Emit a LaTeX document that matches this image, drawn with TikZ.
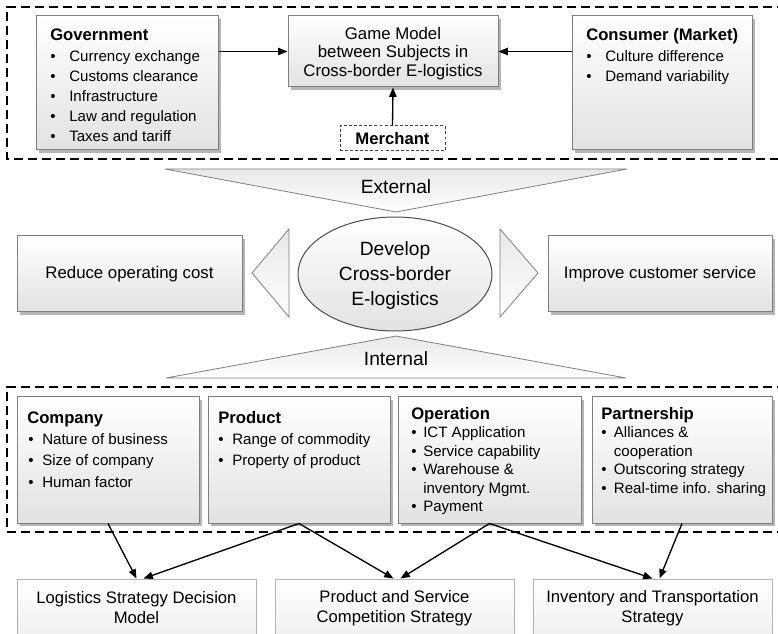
\documentclass[tikz,border=0pt]{standalone}
\usepackage{fontspec}
\setmainfont{Liberation Sans}
\usetikzlibrary{shapes.geometric,fit,shadows,arrows.meta,calc}
\definecolor{bord}{HTML}{7F7F7F}
\definecolor{fillb}{HTML}{E2E2E2}
\definecolor{shad}{HTML}{A8A8A8}
\newcommand\bul[2]{\makebox[#1][l]{\textbullet}#2}
\begin{document}
\begin{tikzpicture}[x=0.75pt,y=-0.75pt,
 box/.style={draw=bord, line width=0.75pt, top color=white, bottom color=fillb, inner sep=0pt,
   drop shadow={shadow xshift=2.2pt, shadow yshift=-2.2pt, fill=shad, opacity=0.85}},
 plainbox/.style={draw=bord!60, line width=0.75pt, top color=white, bottom color=fillb!50, inner sep=0pt},
 frame/.style={draw=black, line width=0.9pt, dash pattern=on 7pt off 3.5pt},
 arr/.style={draw=black, line width=1pt, -{Triangle[length=7pt,width=5.5pt]}},
 tri/.style={draw=bord, line width=0.6pt, top color=fillb!80, bottom color=white},
 title/.style={font=\fontsize{12.5}{15}\selectfont\bfseries, anchor=base west, inner sep=0pt},
 item/.style={font=\fontsize{11.3}{14}\selectfont, anchor=base west, inner sep=0pt},
 big/.style={font=\fontsize{14.4}{18.75}\selectfont, inner sep=0pt, align=center},
 mid/.style={font=\fontsize{12.6}{15}\selectfont, align=center, inner sep=0pt},
 low/.style={font=\fontsize{12.5}{15}\selectfont, align=center, inner sep=0pt},
]
\useasboundingbox (0,0) rectangle (778,634);

% ---------- external frame (open on the right, beyond the page) ----------
\coordinate (xf1) at (800,7); \coordinate (xf2) at (7,7);
\coordinate (xf3) at (7,159); \coordinate (xf4) at (800,159);
\draw[frame] (xf1) -- (xf2) -- (xf3) -- (xf4);

\node[box, fit={(36,16)(218,150)}] (gov) {};
\node[box, fit={(288,16)(498,87)}] (game) {};
\node[font=\fontsize{12.6}{13.9}\selectfont, align=center, inner sep=0pt] (gamet) at (393,53.5)
  {Game Model\\between Subjects in\\Cross-border E-logistics};
\node[box, fit={(572,16)(752,150)}] (cons) {};
\node[draw=black!75, line width=0.75pt, dash pattern=on 2.2pt off 1.6pt, fill=white, inner sep=0pt,
  fit={(340,126)(445,151)}] (merch) {};
\node[font=\fontsize{12.5}{15}\selectfont\bfseries, inner sep=0pt] (mercht) at (merch.center) {Merchant};

\node[title] (govt) at (50,41) {Government};
\foreach \t [count=\i] in {Currency exchange, Customs clearance, Infrastructure, Law and regulation, Taxes and tariff}
  \node[item] (gov\i) at (50,{41.5+20*\i}) {\bul{14.25pt}{\t}};
\node[title] (const) at (586,41) {Consumer (Market)};
\foreach \t [count=\i] in {Culture difference, Demand variability}
  \node[item] (cons\i) at (586,{41.5+20*\i}) {\bul{14.25pt}{\t}};

\draw[arr] (gov.east |- game.west) -- (game.west);
\draw[arr] (cons.west |- game.east) -- (game.east);
\draw[arr] (merch.north) -- (game.south);

% ---------- middle ----------
\coordinate (e1) at (165,169); \coordinate (e2) at (627,169); \coordinate (e3) at (396,212);
\draw[tri] (e1) -- (e2) -- (e3) -- cycle;
\node[big] (external) at (396,187) {External};

\coordinate (l1) at (289,229); \coordinate (l2) at (289,317); \coordinate (l3) at (252,273);
\draw[tri] (l1) -- (l2) -- (l3) -- cycle;
\coordinate (r1) at (500,229); \coordinate (r2) at (500,317); \coordinate (r3) at (538,273);
\draw[tri] (r1) -- (r2) -- (r3) -- cycle;

\node[ellipse, draw=black!70, line width=0.75pt, top color=white, bottom color=fillb,
  minimum width=145.5pt, minimum height=85.5pt, inner sep=0pt] (dev) at (395,274) {};
\node[big] (devt) at (395,276) {Develop\\Cross-border\\E-logistics};

\node[box, fit={(17,236)(242,312)}] (reduce) {};
\node[mid] (reducet) at (reduce.center) {Reduce operating cost};
\node[box, fit={(548,236)(772,312)}] (improve) {};
\node[mid] (improvet) at (improve.center) {Improve customer service};

\coordinate (i1) at (166,378); \coordinate (i2) at (626,378); \coordinate (i3) at (396,336);
\draw[tri] (i1) -- (i2) -- (i3) -- cycle;
\node[big] (internal) at (396,359) {Internal};

% ---------- internal frame (open on the right, beyond the page) ----------
\coordinate (if1) at (800,387); \coordinate (if2) at (7,387);
\coordinate (if3) at (7,532); \coordinate (if4) at (800,532);
\draw[frame] (if1) -- (if2) -- (if3) -- (if4);

\node[box, fit={(17,397)(199,523)}] (company) {};
\node[box, fit={(208,397)(390,523)}] (product) {};
\node[box, fit={(398,397)(581,523)}] (operation) {};
\node[box, fit={(592,397)(772,523)}] (partner) {};

\node[title] (compt) at (27,423) {Company};
\foreach \t [count=\i] in {Nature of business, Size of company, Human factor}
  \node[item] (comp\i) at (28,{422.5+21.5*\i}) {\bul{10.5pt}{\t}};
\node[title] (prodt) at (218,423) {Product};
\foreach \t [count=\i] in {Range of commodity, Property of product}
  \node[item] (prod\i) at (218,{422.5+21.5*\i}) {\bul{10.5pt}{\t}};

\node[title] (opt) at (411,419) {Operation};
\node[item] (op1) at (411,437.5) {\bul{9pt}{ICT Application}};
\node[item] (op2) at (411,456) {\bul{9pt}{Service capability}};
\node[item] (op3) at (411,474.5) {\bul{9pt}{Warehouse \&}};
\node[item] (op4) at (411,493) {\hspace*{9pt}inventory Mgmt.};
\node[item] (op5) at (411,511.5) {\bul{9pt}{Payment}};

\node[title] (partt) at (601,419) {Partnership};
\node[item] (pa1) at (601,437.5) {\bul{9.5pt}{Alliances \&}};
\node[item] (pa2) at (601,456) {\hspace*{9.5pt}cooperation};
\node[item] (pa3) at (601,474.5) {\bul{9.5pt}{Outscoring strategy}};
\node[item] (pa4) at (601,493) {\bul{9.5pt}{Real-time info. sharing}};

% ---------- strategies ----------
\node[plainbox, fit={(17,579)(256,637)}] (logi) {};
\node[low] (logit) at (logi.center) {Logistics Strategy Decision\\Model};
\node[plainbox, fit={(275,579)(514,637)}] (ps) {};
\node[low] (pst) at (ps.center) {Product and Service\\Competition Strategy};
\node[plainbox, fit={(533,579)(772,637)}] (inv) {};
\node[low] (invt) at (inv.center) {Inventory and Transportation\\Strategy};

\draw[arr] (company.south) -- (logi.north);
\draw[arr] (product.south) -- ($(logi.north)+(7,0)$);
\draw[arr] (product.south) -- ($(ps.north)+(-1,0)$);
\draw[arr] (operation.south) -- ($(ps.north)+(6,0)$);
\draw[arr] (operation.south) -- (inv.north);
\draw[arr] (partner.south) -- ($(inv.north)+(7,0)$);
\end{tikzpicture}
\end{document}
